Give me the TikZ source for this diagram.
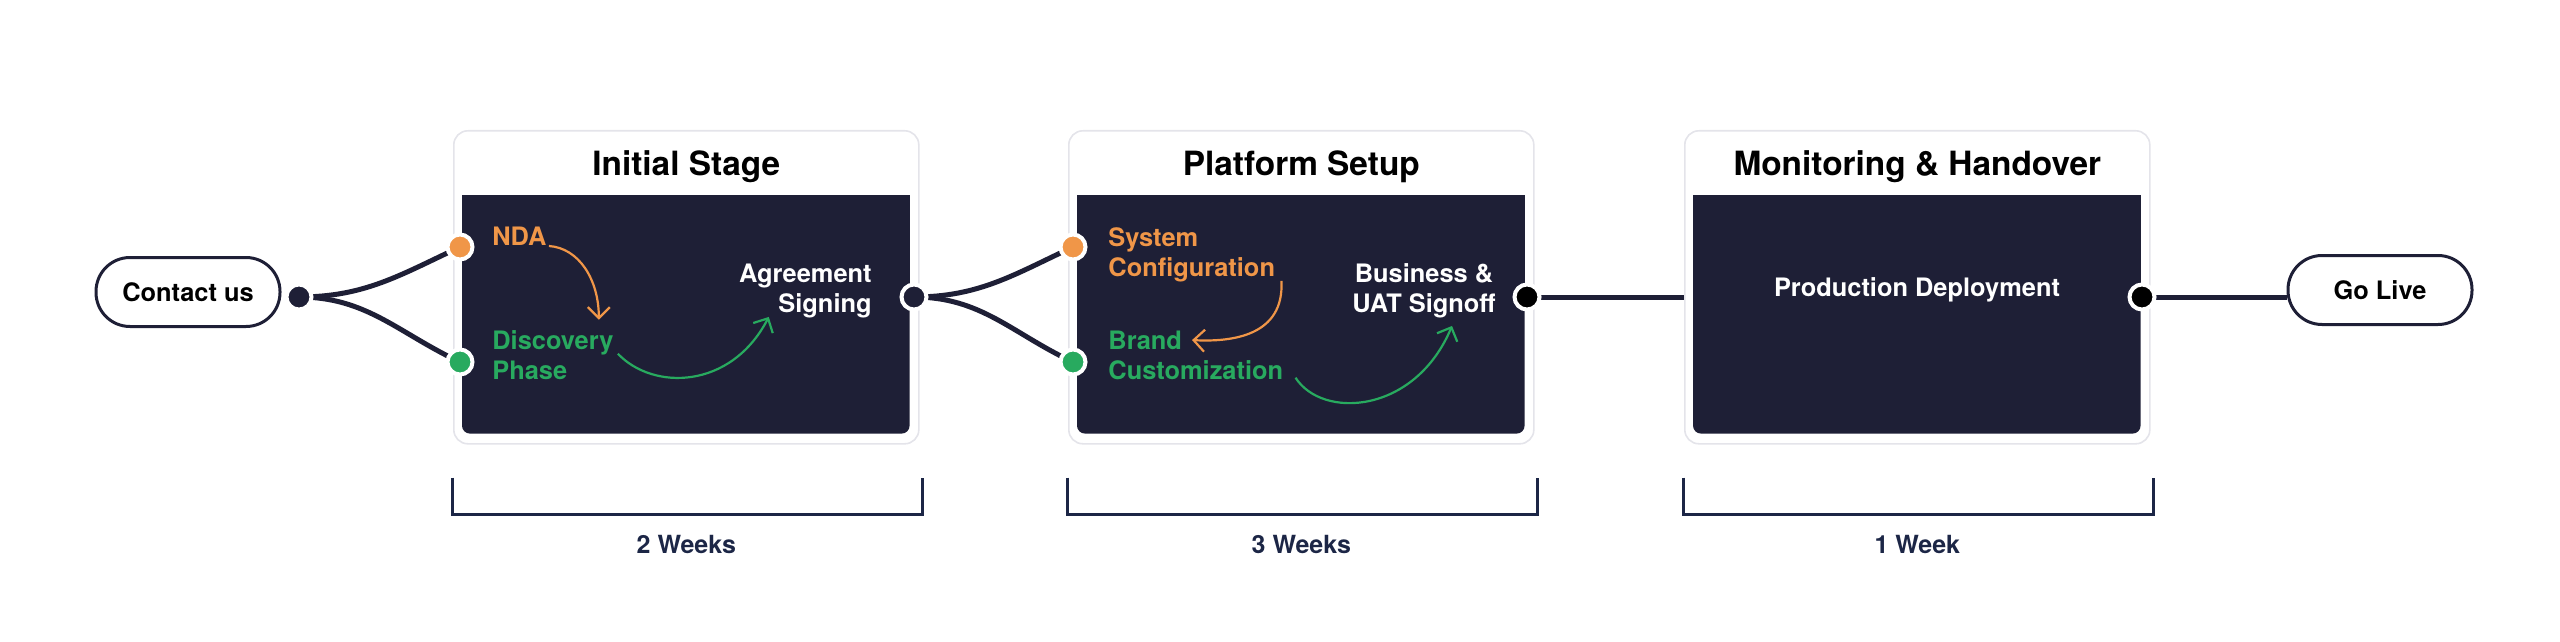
\documentclass[tikz,border=0pt]{standalone}
\usepackage{fontspec}
\setmainfont{TeX Gyre Heros}
\definecolor{navy}{RGB}{30,31,54}
\definecolor{accentorange}{RGB}{240,150,72}
\definecolor{accentgreen}{RGB}{40,170,95}
\definecolor{boxline}{RGB}{228,228,234}
\definecolor{weektext}{RGB}{28,38,70}
\usetikzlibrary{arrows.meta, positioning, calc}

\tikzset{
  pill/.style={draw=navy, line width=1.5pt, rounded corners=17pt, minimum width=92pt,
    minimum height=34.5pt, font=\bfseries\fontsize{12.7}{15}\selectfont, text=black},
  stagebox/.style={draw=boxline, line width=0.8pt, fill=white, rounded corners=7pt,
    minimum width=232.5pt, minimum height=156.5pt, inner sep=0pt},
  heading/.style={font=\bfseries\fontsize{16.7}{20}\selectfont, text=black, inner sep=0pt},
  steptext/.style={font=\bfseries\fontsize{12.7}{15}\selectfont, inner sep=0pt},
  port/.style={circle, draw=white, line width=2pt, minimum size=12.5pt, inner sep=0pt},
  link/.style={draw=navy, line width=2.5pt},
  flow/.style={line width=1.1pt, -{Straight Barb[length=5.5pt,width=11pt]}},
  bracket/.style={draw=weektext, line width=1.5pt},
  weeks/.style={font=\bfseries\fontsize{12.5}{15}\selectfont, text=weektext, inner sep=0pt}
}

\begin{document}
\begin{tikzpicture}[x=0.5pt, y=0.5pt]
  \useasboundingbox (0,0) rectangle (2560,-642);

  % stage cards, durations below
  \foreach \x/\id/\stagename/\dur in {453/initial/Initial Stage/2 Weeks,
      1068/setup/Platform Setup/3 Weeks, 1684/monitor/{Monitoring \& Handover}/1 Week} {
    \node[stagebox, anchor=north west] (\id) at (\x,-130) {};
    \fill[navy, rounded corners=4pt] ($(\id.north west)+(9,-65)$) rectangle ($(\id.south east)+(-10,11)$);
    \fill[navy] ($(\id.north west)+(9,-65)$) rectangle ($(\id.east)+(-10,0)$);
    \node[heading, anchor=base] at ($(\id.north)+(0,-46)$) {\stagename};
    \draw[bracket] ($(\id.south west)+(-1,-33)$) -- ++(0,-37) -| ($(\id.south east)+(3,-33)$);
    \node[weeks, anchor=base] at ($(\id.south)+(0,-109)$) {\dur};
  }

  \node[pill] (contact) at (188,-292) {Contact us};
  \node[pill] (golive) at (2380,-290) {Go Live};

  % initial stage (base = last line)
  \node[steptext, text=accentorange, anchor=base west] (nda) at (492,-245) {NDA};
  \node[steptext, text=accentgreen, anchor=base west, align=left] (discovery) at (492,-379) {Discovery\\Phase};
  \node[steptext, text=white, anchor=base east, align=right] (agreement) at (872,-312) {Agreement\\Signing};

  % platform setup
  \node[steptext, text=accentorange, anchor=base west, align=left] (sysconf) at (1108,-276) {System\\Configuration};
  \node[steptext, text=accentgreen, anchor=base west, align=left] (brand) at (1108,-379) {Brand\\Customization};
  \node[steptext, text=white, anchor=base, align=center] (signoff) at (1424,-312) {Business \&\\UAT Signoff};

  % monitoring
  \node[steptext, text=white, anchor=base] (deploy) at (1917,-296) {Production Deployment};

  % links between stages
  \draw[link] (299,-297) coordinate (contactpt) to[out=0, in=205] (460,-247) coordinate (ndapt);
  \draw[link] (contactpt) to[out=0, in=155] (460,-362) coordinate (discpt);
  \draw[link] (914,-297) coordinate (initialpt) to[out=0, in=205] (1073,-247) coordinate (syspt);
  \draw[link] (initialpt) to[out=0, in=155] (1073,-362) coordinate (brandpt);
  \draw[link] (1527,-297) coordinate (setuppt) -- (setuppt -| monitor.west);
  \draw[link] (2142,-297) coordinate (monitorpt) -- (monitorpt -| golive.west);

  \node[port, fill=navy] (contactout) at (contactpt) {};
  \node[port, fill=accentorange] (ndaport) at (ndapt) {};
  \node[port, fill=accentgreen] (discport) at (discpt) {};
  \node[port, fill=navy] (initialout) at (initialpt) {};
  \node[port, fill=accentorange] (sysport) at (syspt) {};
  \node[port, fill=accentgreen] (brandport) at (brandpt) {};
  \node[port, fill=black] (setupout) at (setuppt) {};
  \node[port, fill=black] (monitorout) at (monitorpt) {};

  % arrows inside the cards
  \draw[flow, accentorange] ($(nda.base east)+(2,-1)$) .. controls +(30,-2) and +(0,40) .. ($(discovery.north east)+(-15,10)$);
  \draw[flow, accentgreen] ($(discovery.north east)+(4,-24)$) .. controls +(35,-37) and +(-38,-73) .. ($(agreement.south west)+(30,1)$);
  \draw[flow, accentorange] ($(sysconf.south east)+(6,1)$) .. controls +(3,-55) and +(40,-2) .. ($(brand.north west)+(84,-10)$);
  \draw[flow, accentgreen] ($(brand.south east)+(12,2)$) .. controls +(27,-42) and +(-37,-88) .. ($(signoff.south)+(28,-8)$);
\end{tikzpicture}
\end{document}
